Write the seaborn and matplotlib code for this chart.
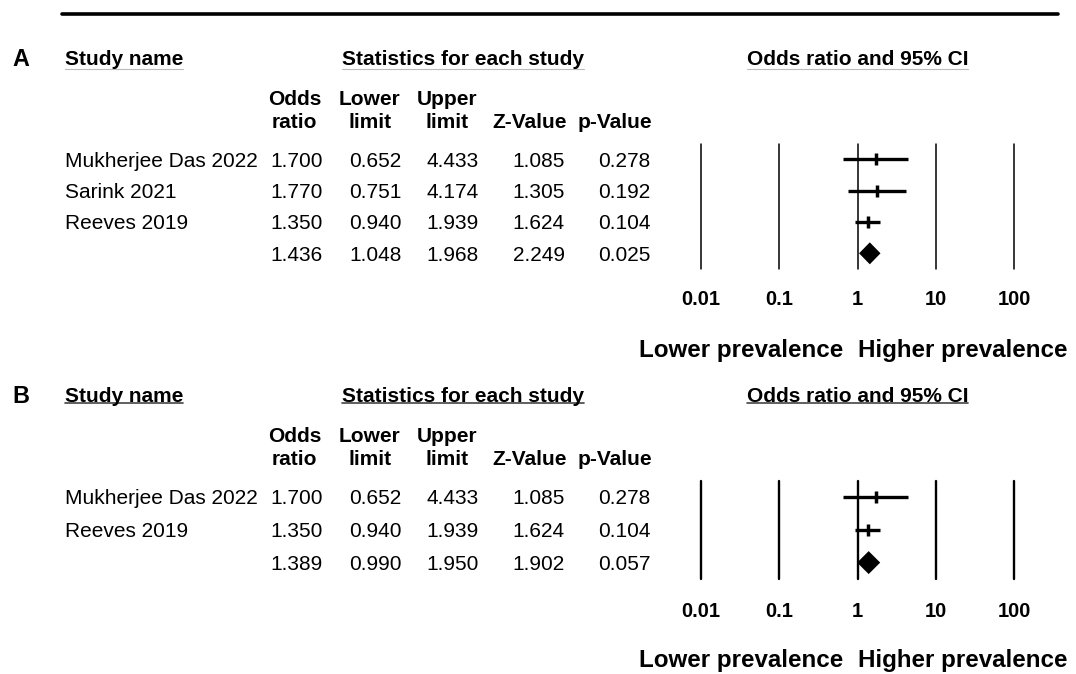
import numpy as np
import pandas as pd
import matplotlib.pyplot as plt
import matplotlib.transforms as mtransforms
from matplotlib.lines import Line2D
import seaborn as sns

# ---- data: panel A ----
studies_a = ["Mukherjee Das 2022", "Sarink 2021", "Reeves 2019"]
or_a = [1.700, 1.770, 1.350]
lower_a = [0.652, 0.751, 0.940]
upper_a = [4.433, 4.174, 1.939]
z_a = [1.085, 1.305, 1.624]
p_a = [0.278, 0.192, 0.104]
pooled_a = [1.436, 1.048, 1.968, 2.249, 0.025]   # odds ratio, lower, upper, z, p

# ---- data: panel B ----
studies_b = ["Mukherjee Das 2022", "Reeves 2019"]
or_b = [1.700, 1.350]
lower_b = [0.652, 0.940]
upper_b = [4.433, 1.939]
z_b = [1.085, 1.624]
p_b = [0.278, 0.104]
pooled_b = [1.389, 0.990, 1.950, 1.902, 0.057]

axis_ticks = [0.01, 0.1, 1, 10, 100]
tick_labels = ["0.01", "0.1", "1", "10", "100"]
col_heads = [("Odds", "ratio"), ("Lower", "limit"), ("Upper", "limit"),
             ("", "Z-Value"), ("", "p-Value")]

# ---- layout (pixels) ----
W, H = 1076, 674
FS = 15
NAME_X = 65
COL_RIGHT = [323, 401.5, 479, 565, 650.5]
COL_CENTER = [294.5, 370, 447, 530, 615]
AX_LEFT, AX_RIGHT = 701, 1014


def cap_half(size):
    return 0.716 * size * 100 / 72 / 2


sns.set_style("white")
plt.rcParams["font.family"] = ["Liberation Sans", "DejaVu Sans"]
plt.rcParams["text.color"] = "black"
plt.rcParams["xtick.color"] = "black"
plt.rcParams["xtick.labelcolor"] = "black"

fig = plt.figure(figsize=(W / 100, H / 100), dpi=100)


def fig_text(x, yc, s, size=FS, **kw):
    # x in px from left, yc = visual centre in px from top
    return fig.text(x / W, 1 - (yc + cap_half(size)) / H, s, fontsize=size,
                    va="baseline", **kw)


def draw_panel(label, names, ors, lows, ups, zs, ps, pooled,
               top, bottom, vline_w, tick_pad, foot_gap, ul_off, ul_color, ul_w):
    n = len(names) + 1
    ax = fig.add_axes([AX_LEFT / W, 1 - bottom / H,
                       (AX_RIGHT - AX_LEFT) / W, (bottom - top) / H])
    ax.set_xscale("log")
    rows = list(range(len(names)))

    ci = pd.DataFrame({
        "study": np.repeat(names, 2),
        "x": np.ravel(np.column_stack([lows, ups])),
        "row": np.repeat(rows, 2),
    })
    sns.lineplot(data=ci, x="x", y="row", units="study", estimator=None,
                 color="black", lw=2.4, solid_capstyle="butt", ax=ax, legend=False)
    sns.scatterplot(x=ors, y=rows, marker="|", s=85, linewidth=2.5,
                    color="black", ax=ax, legend=False, zorder=3)

    est, lo, hi = pooled[0], pooled[1], pooled[2]
    h = 0.35
    r = n - 1
    ax.fill([lo, est, hi, est], [r, r - h, r, r + h], color="black", lw=0)

    for t in axis_ticks:
        ax.axvline(t, color="black", lw=vline_w, clip_on=False, zorder=1)

    ax.set_xlim(0.01, 100)
    ax.set_ylim(n - 0.5, -0.5)
    ax.set_xticks(axis_ticks, tick_labels)
    ax.minorticks_off()
    ax.set_yticks([])
    ax.tick_params(axis="x", length=0, pad=tick_pad, labelsize=14.5)
    for lab in ax.get_xticklabels():
        lab.set_fontweight("bold")
    sns.despine(ax=ax, left=True, bottom=True)
    ax.set(xlabel="", ylabel="")
    ax.patch.set_alpha(0)

    # table rows, tied to the axes rows
    trans = mtransforms.blended_transform_factory(fig.transFigure, ax.transData) + \
        mtransforms.ScaledTranslation(0, -cap_half(FS) / 100, fig.dpi_scale_trans)
    for i, name in enumerate(names):
        fig.text(NAME_X / W, i, name, transform=trans, fontsize=FS,
                 ha="left", va="baseline")
        for j, v in enumerate([ors[i], lows[i], ups[i], zs[i], ps[i]]):
            fig.text(COL_RIGHT[j] / W, i, f"{v:.3f}", transform=trans,
                     fontsize=FS, ha="right", va="baseline")
    for j, v in enumerate(pooled):
        fig.text(COL_RIGHT[j] / W, n - 1, f"{v:.3f}", transform=trans,
                 fontsize=FS, ha="right", va="baseline")

    # headers
    y_head = top - 86
    fig_text(12.7, y_head, label, size=16.8, weight="bold", ha="left")
    heads = [fig_text(NAME_X, y_head, "Study name", weight="bold", ha="left"),
             fig_text(463, y_head, "Statistics for each study", weight="bold", ha="center")]
    xt = mtransforms.blended_transform_factory(ax.transData, fig.transFigure)
    heads.append(fig.text(1, 1 - (y_head + cap_half(FS)) / H, "Odds ratio and 95% CI",
                          transform=xt, fontsize=FS, weight="bold",
                          ha="center", va="baseline"))
    for j, (l1, l2) in enumerate(col_heads):
        if l1:
            fig_text(COL_CENTER[j], top - 46, l1, weight="bold", ha="center")
        fig_text(COL_CENTER[j], top - 23, l2, weight="bold", ha="center")

    # favours labels
    yf = 1 - (bottom + foot_gap + cap_half(17.4)) / H
    lt = xt + mtransforms.ScaledTranslation(-14 / 100, 0, fig.dpi_scale_trans)
    rt = xt + mtransforms.ScaledTranslation(1 / 100, 0, fig.dpi_scale_trans)
    fig.text(1, yf, "Lower prevalence", transform=lt, fontsize=17.4,
             weight="bold", ha="right", va="baseline")
    fig.text(1, yf, "Higher prevalence", transform=rt, fontsize=17.4,
             weight="bold", ha="left", va="baseline")
    return heads, y_head + ul_off, ul_color, ul_w


panels = [
    draw_panel("A", studies_a, or_a, lower_a, upper_a, z_a, p_a, pooled_a,
               top=143.6, bottom=269, vline_w=1.1, tick_pad=14.8, foot_gap=79.8,
               ul_off=11, ul_color="#bbbbbb", ul_w=0.8),
    draw_panel("B", studies_b, or_b, lower_b, upper_b, z_b, p_b, pooled_b,
               top=480.6, bottom=579, vline_w=1.7, tick_pad=16.6, foot_gap=79.5,
               ul_off=8, ul_color="#444444", ul_w=1.2),
]

# top rule
fig.add_artist(Line2D([62 / W, 1058 / W], [1 - 13.5 / H] * 2, color="black",
                      lw=2.6, transform=fig.transFigure))

# underline the headers
fig.canvas.draw()
for heads, y_ul, color, lw in panels:
    for t in heads:
        bb = t.get_window_extent()
        fig.add_artist(Line2D([bb.x0 / W, bb.x1 / W], [1 - y_ul / H] * 2,
                              color=color, lw=lw, transform=fig.transFigure))

fig.savefig("out.png", dpi=100)
